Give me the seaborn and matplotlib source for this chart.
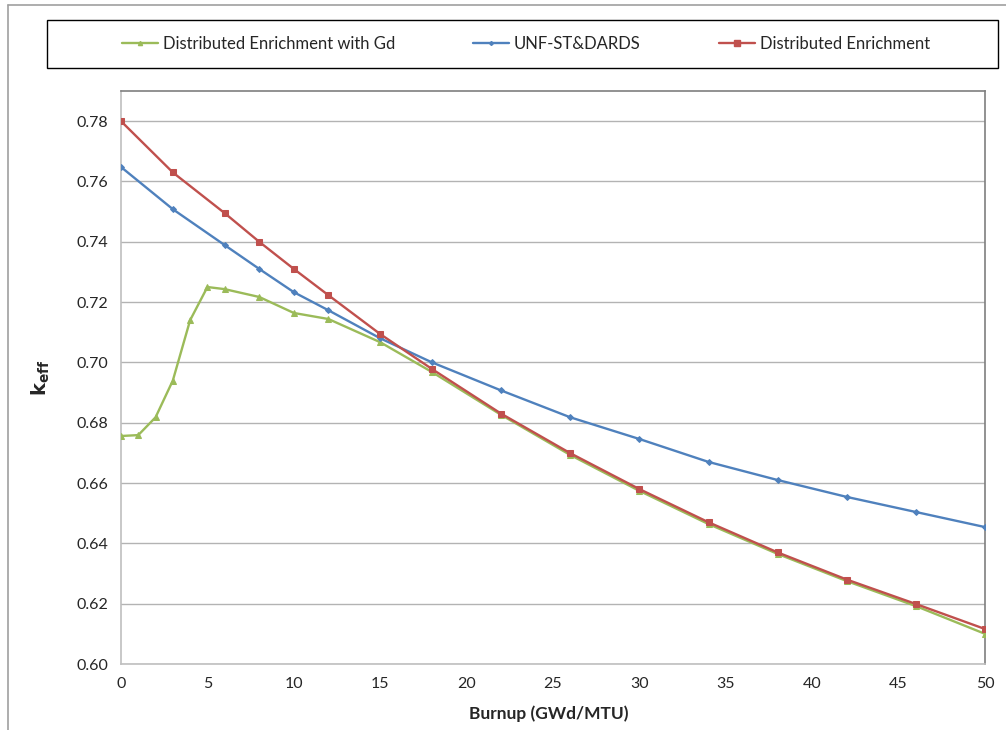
import numpy as np
import pandas as pd
import matplotlib
matplotlib.use('Agg')
import matplotlib.pyplot as plt
import seaborn as sns
from matplotlib.lines import Line2D
from matplotlib.patches import Rectangle

# Data
burnup_gd = [0, 1, 2, 3, 4, 5, 6, 8, 10, 12, 15, 18, 22, 26, 30, 34, 38, 42, 46, 50]
keff_gd = [0.6756, 0.6759, 0.6818, 0.6940, 0.7140, 0.7250, 0.7243, 0.7217, 0.7164, 0.7144,
           0.7067, 0.6968, 0.6826, 0.6693, 0.6574, 0.6464, 0.6365, 0.6275, 0.6192, 0.6100]

burnup = [0, 3, 6, 8, 10, 12, 15, 18, 22, 26, 30, 34, 38, 42, 46, 50]
keff_unf = [0.7648, 0.7508, 0.7389, 0.7310, 0.7233, 0.7173, 0.7080, 0.7000,
            0.6907, 0.6818, 0.6746, 0.6670, 0.6610, 0.6554, 0.6504, 0.6454]
keff_de = [0.7800, 0.7630, 0.7495, 0.7400, 0.7310, 0.7223, 0.7094, 0.6978,
           0.6830, 0.6699, 0.6580, 0.6470, 0.6370, 0.6280, 0.6199, 0.6116]

series_names = ['Distributed Enrichment with Gd', 'UNF-ST&DARDS', 'Distributed Enrichment']
series_colors = ['#9BBB59', '#4F81BD', '#C0504D']
series_markers = ['^', 'D', 's']
series_msize = [4, 3, 5]

x_ticks = list(range(0, 51, 5))
y_ticks = [0.60, 0.62, 0.64, 0.66, 0.68, 0.70, 0.72, 0.74, 0.76, 0.78]

sns.set_style('white')
plt.rcParams['font.family'] = ['Lato', 'DejaVu Sans']

fig = plt.figure(figsize=(10.06, 7.30), dpi=100)
ax = fig.add_axes([121 / 1006, 1 - 664 / 730, (985 - 121) / 1006, (664 - 91) / 730])

data = [(burnup_gd, keff_gd), (burnup, keff_unf), (burnup, keff_de)]
for (xs, ys), name, col, mk, ms in zip(data, series_names, series_colors, series_markers, series_msize):
    df = pd.DataFrame({'x': xs, 'y': ys})
    sns.lineplot(data=df, x='x', y='y', ax=ax, color=col, marker=mk, markersize=ms,
                 markeredgecolor=col, linewidth=1.7, label=name, legend=False, zorder=3)

ax.set_xlim(0, 50)
ax.set_ylim(0.60, 0.79)
ax.set_xticks(x_ticks)
ax.set_yticks(y_ticks)
ax.set_yticklabels([f'{v:.2f}' for v in y_ticks])
ax.yaxis.grid(True, color='#b3b3b3', linewidth=1)
ax.xaxis.grid(False)
ax.tick_params(axis='both', labelsize=11.5, direction='out', length=4, color='#a6a6a6', width=1)
ax.tick_params(axis='x', pad=5)
ax.tick_params(axis='y', pad=5)

for side in ['left', 'bottom']:
    ax.spines[side].set_color('#bfbfbf')
    ax.spines[side].set_linewidth(1.2)
for side in ['top', 'right']:
    ax.spines[side].set_color('#7f7f7f')
    ax.spines[side].set_linewidth(1.2)

ax.set_xlabel('Burnup (GWd/MTU)', fontsize=12.5, fontweight='bold')
ax.set_ylabel(r'$\mathbf{k_{eff}}$', fontsize=14)
ax.xaxis.set_label_coords(0.495, -0.072)
ax.yaxis.set_label_coords(-0.08, 0.5)

# legend box on top
fig.patches.append(Rectangle((47 / 1006, 1 - 68 / 730), (998 - 47) / 1006, 48 / 730,
                             transform=fig.transFigure, fill=False, edgecolor='black',
                             linewidth=1.0, figure=fig))
handles = [Line2D([0], [0], color=c, marker=m, markersize=s - 1, linewidth=1.7)
           for c, m, s in zip(series_colors, series_markers, series_msize)]
fig.legend(handles, series_names, loc='center', bbox_to_anchor=(526 / 1006, 1 - 44 / 730),
           ncol=3, frameon=False, fontsize=12, handlelength=2.15, handletextpad=0.3,
           columnspacing=4.7)

# outer chart frame
fig.lines.append(Line2D([8 / 1006, 8 / 1006], [0, 1 - 5 / 730], transform=fig.transFigure,
                        color='#a0a0a0', linewidth=1.2))
fig.lines.append(Line2D([8 / 1006, 1], [1 - 5 / 730, 1 - 5 / 730], transform=fig.transFigure,
                        color='#a0a0a0', linewidth=1.2))

fig.savefig('out.png', dpi=100)
